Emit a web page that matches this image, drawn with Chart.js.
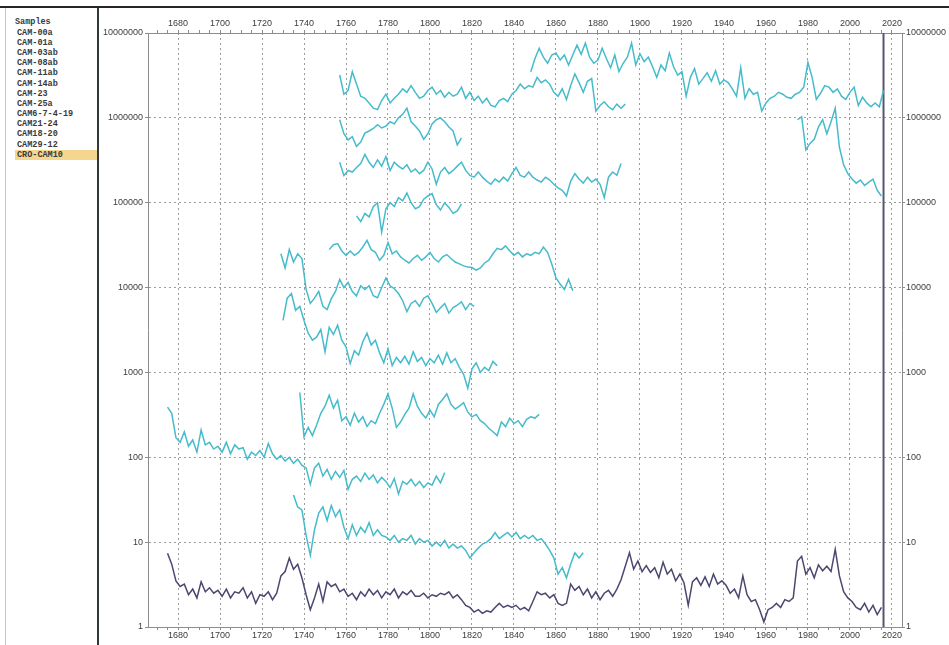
<!DOCTYPE html>
<html>
<head>
<meta charset="utf-8">
<title>Samples</title>
<script src="https://cdn.jsdelivr.net/npm/chart.js@4.4.0/dist/chart.umd.min.js"></script>
<style>
    html, body { margin: 0; padding: 0; background: #fff; }
    body { width: 949px; height: 645px; position: relative; overflow: hidden; }
    #topline { position: absolute; left: 0; top: 6px; width: 949px; height: 2px; background: #262626; }
    #panel {
        position: absolute; left: 5px; top: 8px; width: 94px; height: 637px;
        border-left: 1px solid #c8c8c8; border-right: 2px solid #2e3a3a; box-sizing: border-box;
    }
    #samples {
        position: absolute; left: 15px; top: 17.4px; width: 82px;
        font-family: "Liberation Mono", "DejaVu Sans Mono", monospace;
        font-size: 8.5px; font-weight: bold; color: #3a3a3a;
    }
    #samples div { height: 10.2px; line-height: 10.2px; white-space: nowrap; padding-left: 2px; }
    #samples div.head { padding-left: 0; }
    #samples div.sel { background: #f4d68e; }
    #wrap { position: absolute; left: 99px; top: 8px; width: 850px; height: 637px; }
</style>
</head>
<body>
<div id="topline"></div>
<div id="panel"></div>
<div id="samples"></div>
<div id="wrap"><canvas id="chart" width="850" height="637"></canvas></div>

<script>
// ---- axis settings ----
const xMin = 1665.7;
const xMax = 2024.8;
const yTicks = [1, 10, 100, 1000, 10000, 100000, 1000000, 10000000];
const markerYear = 2016;
const step = 2; // one value every 2 years

// ---- sample list ----
const sampleNames = ["CAM-00a", "CAM-01a", "CAM-03ab", "CAM-08ab", "CAM-11ab", "CAM-14ab",
    "CAM-23", "CAM-25a", "CAM6-7-4-19", "CAM21-24", "CAM18-20", "CAM29-12", "CRO-CAM10"];

// ---- series (start year + values every 2 years) ----
const cam00aStart = 1848;
const cam00a = [3500000, 5000000, 6600000, 5200000, 4400000, 5500000, 5800000, 4800000, 5500000, 4200000,
    5500000, 7200000, 5600000, 7600000, 5200000, 4400000, 4800000, 6600000, 5000000, 3900000,
    5500000, 3500000, 4400000, 5200000, 7600000, 4200000, 5700000, 4600000, 5200000, 4000000,
    3000000, 4200000, 3600000, 5800000, 4000000, 3200000, 3500000, 1800000, 3000000, 3800000,
    2500000, 2900000, 3400000, 2700000, 3600000, 2500000, 2800000, 2600000, 2200000, 1800000,
    3900000, 1700000, 2200000, 1900000, 2000000, 1200000, 1500000, 1700000, 1800000, 2000000,
    1900000, 1750000, 1700000, 1900000, 2000000, 2300000, 4500000, 3000000, 1650000, 1950000,
    2400000, 2300000, 2000000, 2200000, 1800000, 1650000, 2000000, 2300000, 1400000, 1750000,
    1500000, 1350000, 1500000, 1350000, 2100000];

const cam01aStart = 1757;
const cam01a = [3200000, 1900000, 2100000, 3500000, 2500000, 1800000, 1700000, 1500000, 1300000, 1250000,
    1600000, 1900000, 1500000, 1700000, 1900000, 2200000, 2000000, 2400000, 2000000, 1700000,
    1800000, 2100000, 2300000, 1900000, 2100000, 1750000, 2000000, 1800000, 1900000, 2300000,
    1700000, 2000000, 1600000, 1800000, 1500000, 1700000, 1400000, 1350000, 1600000, 1700000,
    1550000, 1900000, 2100000, 2500000, 2200000, 2400000, 2300000, 3000000, 2600000, 2800000,
    2500000, 2000000, 1800000, 2200000, 1650000, 2400000, 3300000, 2600000, 2000000, 2700000,
    2900000, 1200000, 1400000, 1550000, 1350000, 1250000, 1450000, 1300000, 1450000];

const cam03abStart = 1757;
const cam03ab = [950000, 650000, 550000, 600000, 460000, 520000, 660000, 700000, 750000, 830000,
    760000, 800000, 900000, 850000, 1000000, 1100000, 1300000, 900000, 800000, 700000,
    560000, 650000, 850000, 950000, 1000000, 900000, 780000, 700000, 480000, 580000];

const cam08abStart = 1757;
const cam08ab = [300000, 210000, 240000, 230000, 260000, 290000, 370000, 300000, 260000, 320000,
    270000, 350000, 240000, 300000, 270000, 250000, 280000, 230000, 250000, 220000,
    240000, 300000, 250000, 165000, 230000, 260000, 220000, 240000, 270000, 300000,
    240000, 210000, 200000, 230000, 200000, 180000, 165000, 190000, 175000, 200000,
    180000, 220000, 260000, 210000, 200000, 230000, 200000, 185000, 175000, 200000,
    185000, 165000, 150000, 140000, 120000, 180000, 220000, 190000, 170000, 200000,
    175000, 190000, 165000, 115000, 200000, 230000, 210000, 290000];

const cam11abStart = 1975;
const cam11ab = [950000, 1030000, 420000, 500000, 560000, 780000, 950000, 650000, 900000, 1300000,
    450000, 280000, 220000, 190000, 170000, 185000, 160000, 175000, 190000, 140000, 120000];

const cam14abStart = 1765;
const cam14ab = [70000, 60000, 75000, 68000, 90000, 100000, 45000, 85000, 100000, 90000,
    115000, 105000, 130000, 100000, 85000, 90000, 110000, 120000, 128000, 95000,
    82000, 100000, 88000, 75000, 80000, 97000];

const cam23Start = 1752;
const cam23 = [28000, 32000, 33000, 27000, 24000, 27000, 24000, 26000, 30000, 36000,
    28000, 26000, 21000, 24000, 34000, 25000, 27000, 23000, 21000, 19500,
    22000, 24000, 21000, 23000, 26000, 22000, 20000, 23000, 24500, 22000,
    20000, 19000, 18000, 17500, 17200, 16000, 17000, 19500, 21000, 25000,
    29000, 28000, 31000, 27000, 24000, 26000, 23000, 25000, 24000, 26000,
    25000, 30000, 26000, 19000, 13000, 11000, 9500, 12500, 9200];

const cam25aStart = 1729;
const cam25a = [25000, 17000, 28000, 20000, 25000, 22000, 9500, 6500, 7500, 9000,
    6000, 5500, 7400, 9000, 12500, 10000, 11500, 9000, 8000, 10500,
    9500, 10500, 8000, 7600, 10000, 13000, 10500, 9700, 8500, 7000,
    5200, 6500, 7000, 6000, 7500, 8000, 6500, 5100, 5800, 6500,
    5000, 5800, 6200, 6800, 5500, 6500, 6000];

const cam6Start = 1730;
const cam6 = [4100, 7500, 8500, 5400, 6000, 4100, 2900, 2400, 2600, 3200,
    1750, 3400, 2800, 3600, 2400, 2000, 1270, 1800, 1600, 2300,
    2900, 2100, 2400, 1700, 1300, 1900, 1200, 1500, 1300, 1550,
    1250, 1750, 1350, 1500, 1200, 1450, 1300, 1600, 1250, 1700,
    1300, 1450, 1150, 950, 650, 1100, 1300, 1000, 1150, 1050, 1350, 1200];

const cam21Start = 1738;
const cam21 = [580, 175, 225, 180, 240, 330, 400, 540, 380, 470,
    270, 300, 240, 330, 260, 300, 230, 270, 250, 330,
    420, 560, 380, 225, 260, 320, 380, 560, 400, 330,
    290, 360, 300, 420, 480, 560, 420, 370, 400, 440,
    340, 300, 320, 270, 250, 220, 200, 180, 260, 230,
    290, 250, 270, 230, 280, 300, 290, 320];

const cam18Start = 1675;
const cam18 = [390, 330, 170, 150, 200, 135, 160, 115, 210, 140,
    150, 125, 135, 115, 150, 110, 140, 125, 130, 95,
    115, 105, 120, 100, 145, 110, 95, 105, 90, 100,
    85, 95, 80, 75, 48, 75, 85, 60, 72, 55,
    68, 58, 70, 42, 55, 60, 52, 65, 55, 62,
    50, 58, 52, 44, 56, 37, 52, 48, 55, 46,
    52, 44, 50, 47, 60, 50, 66];

const cam29Start = 1735;
const cam29 = [36, 26, 24, 12, 7, 14, 22, 26, 18, 27,
    20, 24, 15, 11, 16, 12, 15, 13, 17, 12,
    14, 12, 11.5, 10.5, 12, 10, 11, 10.5, 12, 9.5,
    11, 10, 10.5, 9, 10, 9, 10.5, 8.5, 9.5, 8.5,
    9, 8, 6.5, 7.5, 8.5, 9.5, 10, 11, 13, 11,
    12, 13, 11.5, 13, 11, 12, 11, 12, 10.5, 11,
    9.5, 8, 6.5, 4.2, 5, 3.8, 5.5, 7.5, 6.5, 7.5];

const croStart = 1675;
const cro = [7.4, 5.5, 3.5, 3.0, 3.2, 2.4, 2.8, 2.2, 3.4, 2.6,
    2.9, 2.5, 2.7, 2.3, 2.8, 2.2, 2.6, 2.5, 2.9, 2.2,
    2.6, 1.9, 2.4, 2.3, 2.6, 2.1, 2.5, 4.0, 4.5, 6.5,
    4.8, 5.5, 3.8, 2.4, 1.6, 2.2, 3.2, 2.0, 3.4, 3.0,
    3.2, 2.6, 2.8, 2.3, 2.5, 2.1, 2.6, 2.3, 2.8, 2.4,
    2.7, 2.2, 2.6, 2.4, 2.8, 2.2, 2.6, 2.4, 2.7, 2.3,
    2.3, 2.5, 2.2, 2.4, 2.3, 2.5, 2.4, 2.6, 2.2, 2.4,
    2.1, 1.8, 1.7, 1.5, 1.6, 1.45, 1.55, 1.5, 1.7, 1.9,
    1.7, 1.8, 1.7, 1.8, 1.6, 1.7, 1.55, 2.0, 2.6, 2.4,
    2.5, 2.2, 2.4, 1.9, 1.8, 1.9, 3.2, 2.7, 3.0, 2.4,
    2.8, 2.2, 2.6, 2.1, 2.5, 2.7, 2.3, 2.8, 3.6, 5.2,
    7.5, 4.8, 6.0, 4.5, 5.3, 4.4, 5.0, 3.8, 5.8, 4.2,
    4.8, 3.5, 4.2, 3.3, 1.8, 3.4, 3.8, 3.1, 3.9, 3.0,
    4.2, 3.2, 3.5, 3.1, 2.5, 2.8, 2.2, 4.0, 2.4, 2.0,
    2.1, 1.6, 1.15, 1.6, 1.7, 1.9, 1.7, 2.1, 2.0, 2.2,
    6.0, 6.8, 4.2, 5.0, 3.8, 5.4, 4.6, 5.2, 4.5, 8.2,
    4.0, 2.6, 2.2, 2.0, 1.7, 1.6, 1.9, 1.5, 1.8, 1.4, 1.7];

// ---- colours ----
const sampleColor = "#45bbcb";
const chronoColor = "#4a4870";
const gridColor   = "#9c9c9c";
const axisColor   = "#8c8c8c";
const labelColor  = "#3c3c3c";

// ---- fill the samples list ----
const list = document.getElementById("samples");
list.innerHTML = '<div class="head">Samples</div>' +
    sampleNames.map((n, i) =>
        `<div class="${i === sampleNames.length - 1 ? "sel" : ""}">${n}</div>`).join("");

function toPoints(start, values) {
    return values.map((v, i) => ({ x: start + i * step, y: v }));
}

function makeSet(label, start, values, color) {
    return {
        label: label,
        data: toPoints(start, values),
        borderColor: color,
        borderWidth: 1.5,
        pointRadius: 0,
        tension: 0,
        fill: false
    };
}

const datasets = [
    makeSet("CAM-00a", cam00aStart, cam00a, sampleColor),
    makeSet("CAM-01a", cam01aStart, cam01a, sampleColor),
    makeSet("CAM-03ab", cam03abStart, cam03ab, sampleColor),
    makeSet("CAM-08ab", cam08abStart, cam08ab, sampleColor),
    makeSet("CAM-11ab", cam11abStart, cam11ab, sampleColor),
    makeSet("CAM-14ab", cam14abStart, cam14ab, sampleColor),
    makeSet("CAM-23", cam23Start, cam23, sampleColor),
    makeSet("CAM-25a", cam25aStart, cam25a, sampleColor),
    makeSet("CAM6-7-4-19", cam6Start, cam6, sampleColor),
    makeSet("CAM21-24", cam21Start, cam21, sampleColor),
    makeSet("CAM18-20", cam18Start, cam18, sampleColor),
    makeSet("CAM29-12", cam29Start, cam29, sampleColor),
    makeSet("CRO-CAM10", croStart, cro, chronoColor),
    {
        label: "end",
        data: [{ x: markerYear, y: yTicks[0] }, { x: markerYear, y: yTicks[yTicks.length - 1] }],
        borderColor: "#555570",
        borderWidth: 2,
        pointRadius: 0
    }
];

const tickFont = { family: "'Liberation Sans', Arial, sans-serif", size: 9 };

function yearLabel(v) {
    return Math.round(v) % 20 === 0 ? String(Math.round(v)) : "";
}

function xAxis(pos, grid) {
    return {
        type: "linear",
        position: pos,
        min: xMin,
        max: xMax,
        afterFit: s => { s.height = pos === "top" ? 25 : 18; },
        ticks: {
            stepSize: 5, includeBounds: false, autoSkip: false, maxRotation: 0,
            padding: pos === "top" ? 1 : 0,
            font: tickFont, color: labelColor, callback: yearLabel
        },
        grid: {
            drawOnChartArea: grid,
            color: c => (c.tick && Math.round(c.tick.value) % 20 === 0) ? gridColor : "rgba(0,0,0,0)",
            tickColor: axisColor,
            tickLength: 3,
            lineWidth: 1
        },
        border: { display: true, color: axisColor, dash: [2, 3] }
    };
}

function yAxis(pos, grid) {
    return {
        type: "logarithmic",
        position: pos,
        min: yTicks[0],
        max: yTicks[yTicks.length - 1],
        afterFit: s => { s.width = pos === "left" ? 49 : 47; },
        afterBuildTicks: s => { s.ticks = yTicks.map(v => ({ value: v })); },
        ticks: {
            autoSkip: false, padding: pos === "left" ? 2 : 1,
            font: tickFont, color: labelColor, callback: v => String(v)
        },
        grid: {
            drawOnChartArea: grid,
            color: gridColor,
            tickColor: axisColor,
            tickLength: 3,
            lineWidth: 1
        },
        border: { display: true, color: axisColor, dash: [2, 3] }
    };
}

new Chart(document.getElementById("chart"), {
    type: "line",
    data: { datasets: datasets },
    options: {
        responsive: false,
        animation: false,
        layout: { padding: 0 },
        plugins: { legend: { display: false }, tooltip: { enabled: false } },
        scales: {
            x: xAxis("bottom", true),
            x2: xAxis("top", false),
            y: yAxis("left", true),
            y2: yAxis("right", false)
        }
    }
});
</script>
</body>
</html>
